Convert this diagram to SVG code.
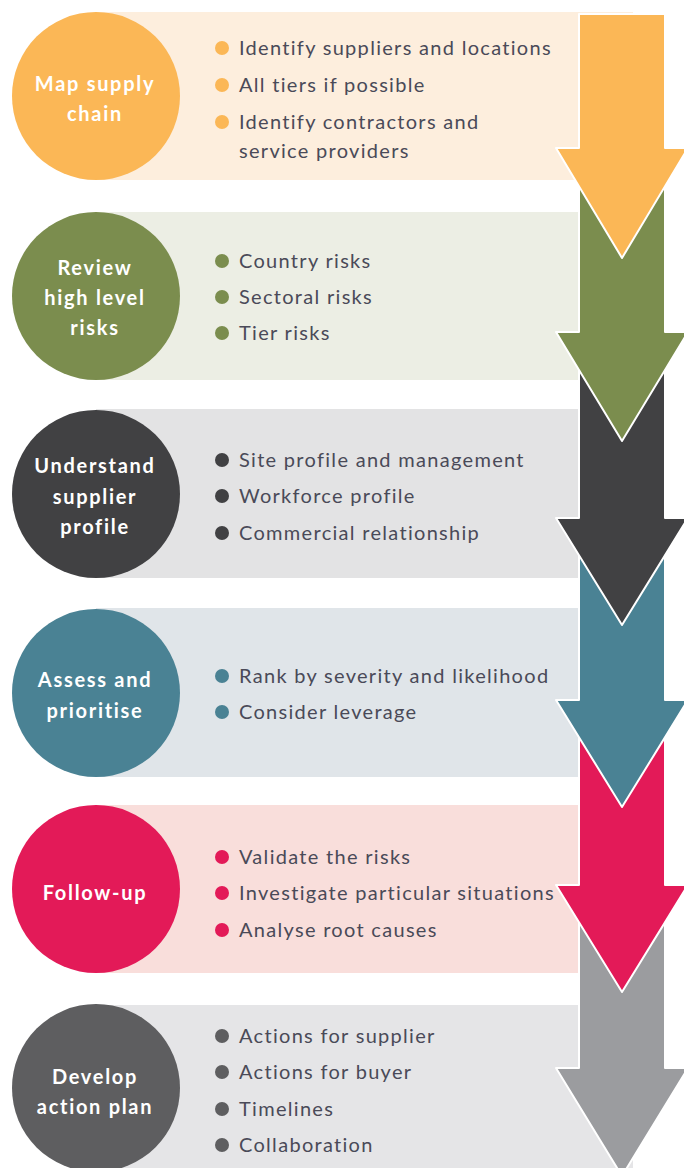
<svg xmlns="http://www.w3.org/2000/svg" width="684" height="1168" viewBox="0 0 684 1168">
<style>
.lbl{font-family:Lato,"Open Sans","Liberation Sans",sans-serif;font-weight:bold;font-size:20px;letter-spacing:1.7px;fill:#ffffff;text-anchor:middle}
.item{font-family:Lato,"Open Sans","Liberation Sans",sans-serif;font-size:20px;letter-spacing:1.3px;fill:#4a4a58}
.arr{stroke:#ffffff;stroke-width:2;stroke-linejoin:round}
</style>
<rect width="684" height="1168" fill="#ffffff"/>
<g id="node1">
<rect x="96" y="12" width="537" height="168" fill="#FDEEDD"/>
<circle cx="96" cy="96" r="84" fill="#FBB756"/>
<text class="lbl"><tspan x="95" y="91">Map supply</tspan><tspan x="95" y="121">chain</tspan></text>
<g fill="#FBB756"><circle cx="222" cy="48" r="7"/><circle cx="222" cy="85" r="7"/><circle cx="222" cy="122" r="7"/></g>
<text class="item"><tspan x="239" y="55">Identify suppliers and locations</tspan><tspan x="239" y="92">All tiers if possible</tspan><tspan x="239" y="129">Identify contractors and</tspan><tspan x="239" y="158">service providers</tspan></text>
</g>
<g id="node2">
<rect x="96" y="212" width="537" height="168" fill="#ECEEE4"/>
<circle cx="96" cy="296" r="84" fill="#7B8D4E"/>
<text class="lbl"><tspan x="95" y="275">Review</tspan><tspan x="95" y="305">high level</tspan><tspan x="95" y="335">risks</tspan></text>
<g fill="#7B8D4E"><circle cx="222" cy="261" r="7"/><circle cx="222" cy="297" r="7"/><circle cx="222" cy="333" r="7"/></g>
<text class="item"><tspan x="239" y="268">Country risks</tspan><tspan x="239" y="304">Sectoral risks</tspan><tspan x="239" y="340">Tier risks</tspan></text>
</g>
<g id="node3">
<rect x="96" y="409" width="537" height="169" fill="#E3E3E4"/>
<circle cx="96" cy="494" r="84" fill="#414143"/>
<text class="lbl"><tspan x="95" y="473">Understand</tspan><tspan x="95" y="504">supplier</tspan><tspan x="95" y="534">profile</tspan></text>
<g fill="#414143"><circle cx="222" cy="460" r="7"/><circle cx="222" cy="496" r="7"/><circle cx="222" cy="533" r="7"/></g>
<text class="item"><tspan x="239" y="467">Site profile and management</tspan><tspan x="239" y="503">Workforce profile</tspan><tspan x="239" y="540">Commercial relationship</tspan></text>
</g>
<g id="node4">
<rect x="96" y="608" width="537" height="169" fill="#E0E5E9"/>
<circle cx="96" cy="693" r="84" fill="#4A8294"/>
<text class="lbl"><tspan x="95" y="687">Assess and</tspan><tspan x="95" y="718">prioritise</tspan></text>
<g fill="#4A8294"><circle cx="222" cy="676" r="7"/><circle cx="222" cy="712" r="7"/></g>
<text class="item"><tspan x="239" y="683">Rank by severity and likelihood</tspan><tspan x="239" y="719">Consider leverage</tspan></text>
</g>
<g id="node5">
<rect x="96" y="805" width="537" height="168" fill="#F9DEDB"/>
<circle cx="96" cy="889" r="84" fill="#E31A58"/>
<text class="lbl"><tspan x="95" y="900">Follow-up</tspan></text>
<g fill="#E31A58"><circle cx="222" cy="857" r="7"/><circle cx="222" cy="893" r="7"/><circle cx="222" cy="930" r="7"/></g>
<text class="item"><tspan x="239" y="864">Validate the risks</tspan><tspan x="239" y="900">Investigate particular situations</tspan><tspan x="239" y="937">Analyse root causes</tspan></text>
</g>
<g id="node6">
<rect x="96" y="1005" width="537" height="163" fill="#E5E5E7"/>
<circle cx="96" cy="1088" r="84" fill="#5E5E60"/>
<text class="lbl"><tspan x="95" y="1084">Develop</tspan><tspan x="95" y="1114">action plan</tspan></text>
<g fill="#5E5E60"><circle cx="222" cy="1036" r="7"/><circle cx="222" cy="1072" r="7"/><circle cx="222" cy="1109" r="7"/><circle cx="222" cy="1145" r="7"/></g>
<text class="item"><tspan x="239" y="1043">Actions for supplier</tspan><tspan x="239" y="1079">Actions for buyer</tspan><tspan x="239" y="1116">Timelines</tspan><tspan x="239" y="1152">Collaboration</tspan></text>
</g>
<g id="connectors">
<path class="arr" fill="#9B9C9F" d="M579,900 L665,900 L665,1068 L688,1068 L622,1176 L556,1068 L579,1068 Z"/>
<path class="arr" fill="#E31A58" d="M579,720 L665,720 L665,885 L688,885 L622,992 L556,885 L579,885 Z"/>
<path class="arr" fill="#4A8294" d="M579,530 L665,530 L665,700 L688,700 L622,807 L556,700 L579,700 Z"/>
<path class="arr" fill="#414143" d="M579,345 L665,345 L665,518 L688,518 L622,625 L556,518 L579,518 Z"/>
<path class="arr" fill="#7B8D4E" d="M579,160 L665,160 L665,332 L688,332 L622,441 L556,332 L579,332 Z"/>
<path class="arr" fill="#FBB756" d="M579,14 L665,14 L665,148 L688,148 L622,258 L556,148 L579,148 Z"/>
</g>
</svg>
